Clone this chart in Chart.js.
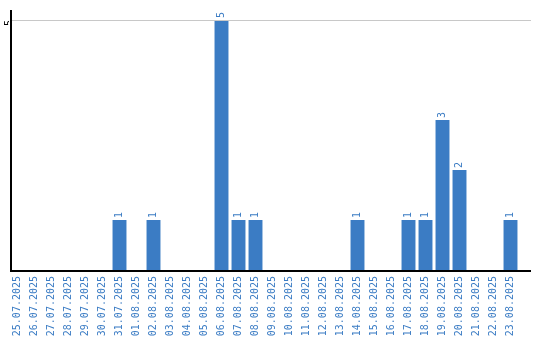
<!DOCTYPE html>
<html>
<head>
<meta charset="utf-8">
<script src="https://cdn.jsdelivr.net/npm/chart.js@4/dist/chart.umd.min.js"></script>
<style>
  html, body { margin: 0; padding: 0; background: #fff; }
  #wrap { width: 540px; height: 340px; }
</style>
</head>
<body>
<div id="wrap"><canvas id="chart"></canvas></div>
<script>
const dates = [
    '25.07.2025', '26.07.2025', '27.07.2025', '28.07.2025', '29.07.2025', '30.07.2025', '31.07.2025',
    '01.08.2025', '02.08.2025', '03.08.2025', '04.08.2025', '05.08.2025', '06.08.2025', '07.08.2025',
    '08.08.2025', '09.08.2025', '10.08.2025', '11.08.2025', '12.08.2025', '13.08.2025', '14.08.2025',
    '15.08.2025', '16.08.2025', '17.08.2025', '18.08.2025', '19.08.2025', '20.08.2025', '21.08.2025',
    '22.08.2025', '23.08.2025'
];
const counts = [0, 0, 0, 0, 0, 0, 1, 0, 1, 0, 0, 0, 5, 1, 1, 0, 0, 0, 0, 0, 1, 0, 0, 1, 1, 3, 2, 0, 0, 1];
const yTicks = [5];

const blue = '#3b7cc4';
const font = { family: 'DejaVu Sans Mono', size: 10 };

// axis lines + value labels drawn over the chart area
const extras = {
    id: 'extras',
    afterDatasetsDraw(chart) {
        const { ctx, chartArea, scales } = chart;
        const y0 = scales.y.getPixelForValue(0);
        const axisRight = chartArea.right + 12;
        const axisLeft = chartArea.left + 2;
        ctx.save();
        // grid line for the tick
        ctx.strokeStyle = '#c8c8c8';
        ctx.lineWidth = 1;
        yTicks.forEach(t => {
            const py = Math.round(scales.y.getPixelForValue(t)) + 0.5;
            ctx.beginPath();
            ctx.moveTo(axisLeft, py);
            ctx.lineTo(axisRight, py);
            ctx.stroke();
        });
        // axes
        ctx.strokeStyle = '#000';
        ctx.lineWidth = 2;
        ctx.beginPath();
        ctx.moveTo(axisLeft, chartArea.top - 10);
        ctx.lineTo(axisLeft, y0 + 1);
        ctx.lineTo(axisRight, y0 + 1);
        ctx.stroke();
        // value labels
        ctx.fillStyle = blue;
        ctx.font = font.size + 'px ' + font.family;
        ctx.textAlign = 'left';
        ctx.textBaseline = 'middle';
        chart.getDatasetMeta(0).data.forEach((bar, i) => {
            if (!counts[i]) return;
            ctx.save();
            ctx.translate(bar.x, bar.y - 2);
            ctx.rotate(-Math.PI / 2);
            ctx.fillText(String(counts[i]), 0, 0);
            ctx.restore();
        });
        ctx.restore();
    }
};

new Chart(document.getElementById('chart'), {
    type: 'bar',
    data: {
        labels: dates,
        datasets: [{
            data: counts,
            backgroundColor: blue,
            barPercentage: 0.82,
            categoryPercentage: 1
        }]
    },
    options: {
        responsive: true,
        maintainAspectRatio: false,
        animation: false,
        layout: { padding: { top: 20, right: 21, left: 0, bottom: 0 } },
        plugins: { legend: { display: false }, tooltip: { enabled: false } },
        scales: {
            x: {
                grid: { display: false, drawTicks: false },
                border: { display: false },
                afterFit(scale) { scale.height = 70; },
                ticks: {
                    color: blue,
                    font: font,
                    minRotation: 90,
                    maxRotation: 90,
                    autoSkip: false,
                    padding: 6
                }
            },
            y: {
                min: 0,
                max: 5,
                grid: { display: false, drawTicks: false },
                border: { display: false },
                afterFit(scale) { scale.width = 9; },
                afterBuildTicks(scale) {
                    scale.ticks = yTicks.map(v => ({ value: v }));
                },
                ticks: {
                    color: '#000',
                    font: font,
                    minRotation: 90,
                    maxRotation: 90,
                    padding: 0
                }
            }
        }
    },
    plugins: [extras]
});
</script>
</body>
</html>
